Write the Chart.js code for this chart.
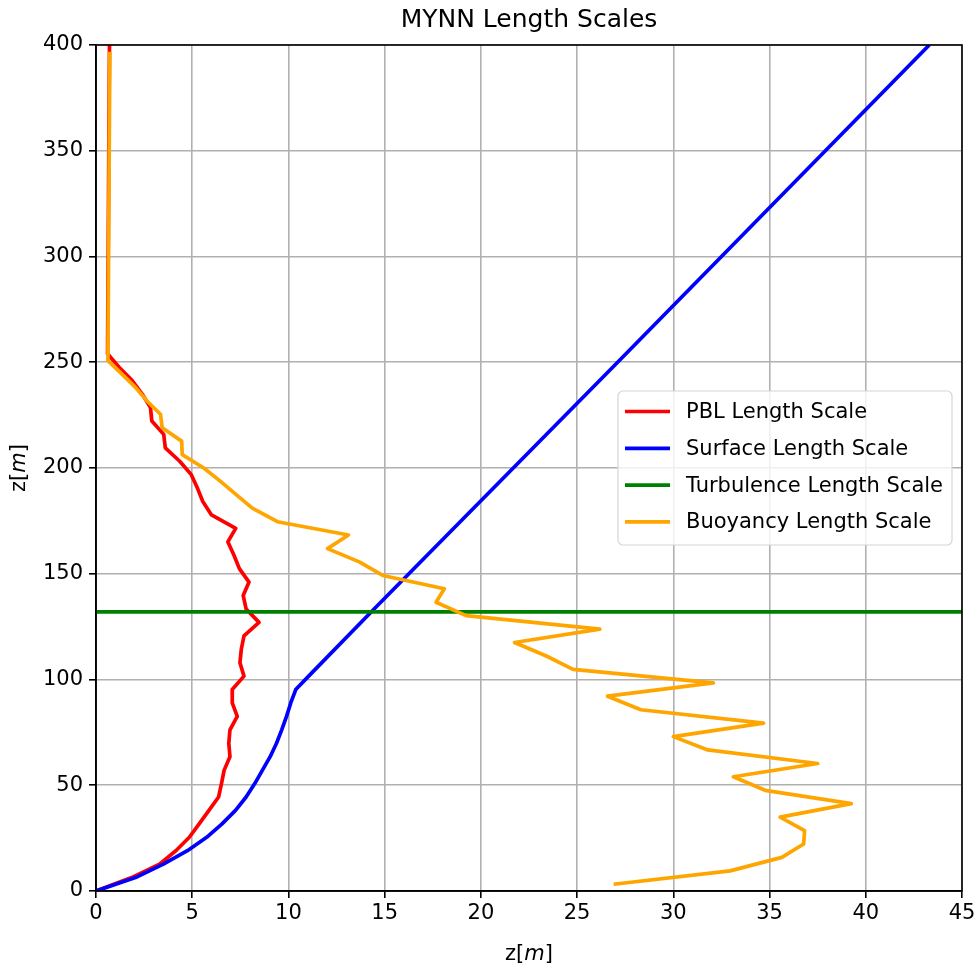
<!DOCTYPE html>
<html>
<head>
<meta charset="utf-8">
<title>MYNN Length Scales</title>
<script src="https://cdn.jsdelivr.net/npm/chart.js@4.4.1/dist/chart.umd.min.js"></script>
<style>
  html, body { margin: 0; padding: 0; background: #fff; }
  canvas { display: block; }
</style>
</head>
<body>
<canvas id="lengthChart" width="979" height="970"></canvas>
<script>
// model full levels (m) and the PBL length scale on them
const fullLevels = [0, 6.35, 12.7, 19.05, 25.4, 31.75, 38.1, 44.45, 50.8, 57.15, 63.5, 69.85, 76.2, 82.55,
	88.9, 95.25, 101.6, 107.95, 114.3, 120.65, 127.0, 133.35, 139.7, 146.05, 152.4, 158.75, 165.1,
	171.45, 177.8, 184.15, 190.5, 196.85, 203.2, 209.55, 215.9, 222.25, 228.6, 234.95, 241.3, 247.65,
	254.0, 400];
const pblLength = [0, 1.85, 3.3, 4.15, 4.85, 5.36, 5.87, 6.37, 6.52, 6.66, 6.96, 6.9, 6.96, 7.34,
	7.08, 7.08, 7.69, 7.48, 7.55, 7.69, 8.47, 7.8, 7.65, 7.95, 7.45, 7.17, 6.85,
	7.26, 6.0, 5.55, 5.27, 4.95, 4.35, 3.6, 3.52, 2.9, 2.83, 2.4, 1.88, 1.2,
	0.6, 0.7];

// surface length scale
const surfaceLevels = [0, 6.35, 12.7, 19.05, 25.4, 31.75, 38.1, 44.45, 50.8, 57.15, 63.5, 69.85, 76.2,
	82.55, 88.9, 95.25, 101.6, 133.35, 247.65, 400];
const surfaceLength = [0, 2.05, 3.5, 4.75, 5.75, 6.55, 7.25, 7.8, 8.25, 8.65, 9.05, 9.38, 9.65,
	9.9, 10.12, 10.38, 11.05, 14.45, 26.85, 43.3];

// turbulence length scale (single height)
const turbulenceZ = 132;

// buoyancy length scale on half levels
const halfLevels = [3.2, 9.5, 15.9, 22.2, 28.6, 34.9, 41.3, 47.6, 54.0, 60.3, 66.7, 73.0, 79.4, 85.7,
	92.1, 98.4, 104.8, 111.1, 117.5, 123.8, 130.2, 136.5, 142.9, 149.2, 155.6, 161.9, 168.3, 174.6,
	181.0, 187.3, 193.7, 200.0, 206.3, 212.7, 219.0, 225.4, 231.7, 238.1, 244.4, 250.8, 396.8];
const buoyancyLength = [26.9, 32.95, 35.64, 36.77, 36.82, 35.55, 39.25, 34.77, 33.12, 37.5, 31.79, 30.0, 34.69, 28.31,
	26.58, 32.08, 24.79, 23.4, 21.75, 26.18, 19.23, 17.67, 18.1, 14.9, 13.68, 12.03, 13.12, 9.43,
	8.12, 7.3, 6.47, 5.6, 4.48, 4.45, 3.44, 3.35, 2.65, 2.05, 1.35, 0.62, 0.72];

const xTicks = [0, 5, 10, 15, 20, 25, 30, 35, 40, 45];
const yTicks = [0, 50, 100, 150, 200, 250, 300, 350, 400];

const FONT = "'DejaVu Sans', 'Liberation Sans', sans-serif";

const toPoints = (xs, zs) => xs.map((v, i) => ({ x: v, y: zs[i] }));

// title, axis labels, frame and legend box
const decorations = {
	id: 'decorations',
	afterDraw(chart) {
		const ctx = chart.ctx;
		const a = chart.chartArea;
		ctx.save();

		// frame
		ctx.strokeStyle = '#000';
		ctx.lineWidth = 1.6;
		ctx.strokeRect(a.left, a.top, a.right - a.left, a.bottom - a.top);

		// title
		ctx.fillStyle = '#000';
		ctx.font = '25px ' + FONT;
		ctx.textAlign = 'center';
		ctx.textBaseline = 'middle';
		ctx.fillText('MYNN Length Scales', (a.left + a.right) / 2, 20);

		// z[m] with italic m
		const drawLabel = (cx, cy) => {
			const parts = [['z[', '21px ' + FONT], ['m', 'italic 21px ' + FONT], [']', '21px ' + FONT]];
			let w = 0;
			parts.forEach(p => { ctx.font = p[1]; w += ctx.measureText(p[0]).width; });
			let x = cx - w / 2;
			ctx.textAlign = 'left';
			parts.forEach(p => {
				ctx.font = p[1];
				ctx.fillText(p[0], x, cy);
				x += ctx.measureText(p[0]).width;
			});
		};
		drawLabel((a.left + a.right) / 2, 955);
		ctx.save();
		ctx.translate(20, (a.top + a.bottom) / 2);
		ctx.rotate(-Math.PI / 2);
		drawLabel(0, 0);
		ctx.restore();

		// legend
		const bx = 618, by = 391, bw = 334, bh = 154, r = 5;
		ctx.beginPath();
		ctx.moveTo(bx + r, by);
		ctx.arcTo(bx + bw, by, bx + bw, by + bh, r);
		ctx.arcTo(bx + bw, by + bh, bx, by + bh, r);
		ctx.arcTo(bx, by + bh, bx, by, r);
		ctx.arcTo(bx, by, bx + bw, by, r);
		ctx.closePath();
		ctx.fillStyle = 'rgba(255,255,255,0.8)';
		ctx.fill();
		ctx.strokeStyle = '#d6d6d6';
		ctx.lineWidth = 1.2;
		ctx.stroke();

		ctx.font = '21px ' + FONT;
		ctx.textAlign = 'left';
		ctx.textBaseline = 'middle';
		chart.data.datasets.forEach((ds, i) => {
			const y = 411.5 + i * 36.8;
			ctx.strokeStyle = ds.borderColor;
			ctx.lineWidth = 3.7;
			ctx.beginPath();
			ctx.moveTo(625, y);
			ctx.lineTo(670, y);
			ctx.stroke();
			ctx.fillStyle = '#000';
			ctx.fillText(ds.label, 686, y + 1);
		});
		ctx.restore();
	}
};

const lineStyle = {
	showLine: true, pointRadius: 0, pointHoverRadius: 0, borderWidth: 3.7, tension: 0, fill: false,
	borderJoinStyle: 'round', borderCapStyle: 'butt'
};

new Chart(document.getElementById('lengthChart'), {
	type: 'scatter',
	data: {
		datasets: [
			{ label: 'PBL Length Scale', data: toPoints(pblLength, fullLevels), borderColor: '#ff0000', order: 4, ...lineStyle },
			{ label: 'Surface Length Scale', data: toPoints(surfaceLength, surfaceLevels), borderColor: '#0000ff', order: 3, ...lineStyle },
			{ label: 'Turbulence Length Scale', data: [{ x: xTicks[0], y: turbulenceZ }, { x: xTicks[xTicks.length - 1], y: turbulenceZ }], borderColor: '#008000', order: 2, ...lineStyle },
			{ label: 'Buoyancy Length Scale', data: toPoints(buoyancyLength, halfLevels), borderColor: '#ffa500', order: 1, ...lineStyle }
		]
	},
	options: {
		responsive: false,
		animation: false,
		devicePixelRatio: 1,
		layout: { padding: { left: 0, right: 17, top: 45, bottom: 0 } },
		plugins: {
			legend: { display: false },
			title: { display: false },
			tooltip: { enabled: false }
		},
		scales: {
			x: {
				type: 'linear',
				min: xTicks[0],
				max: xTicks[xTicks.length - 1],
				afterBuildTicks: (scale) => { scale.ticks = xTicks.map(v => ({ value: v })); },
				afterFit: (scale) => { scale.height = 79; },
				grid: { color: '#b0b0b0', lineWidth: 1.6, tickLength: 7, tickColor: '#000', tickWidth: 1.6 },
				border: { display: true, color: '#000', width: 1.6 },
				ticks: { color: '#000', font: { family: FONT, size: 21 }, padding: 3, maxRotation: 0 }
			},
			y: {
				type: 'linear',
				min: yTicks[0],
				max: yTicks[yTicks.length - 1],
				afterBuildTicks: (scale) => { scale.ticks = yTicks.map(v => ({ value: v })); },
				afterFit: (scale) => { scale.width = 96; },
				grid: { color: '#b0b0b0', lineWidth: 1.6, tickLength: 7, tickColor: '#000', tickWidth: 1.6 },
				border: { display: true, color: '#000', width: 1.6 },
				ticks: { color: '#000', font: { family: FONT, size: 21 }, padding: 6 }
			}
		}
	},
	plugins: [decorations]
});
</script>
</body>
</html>
